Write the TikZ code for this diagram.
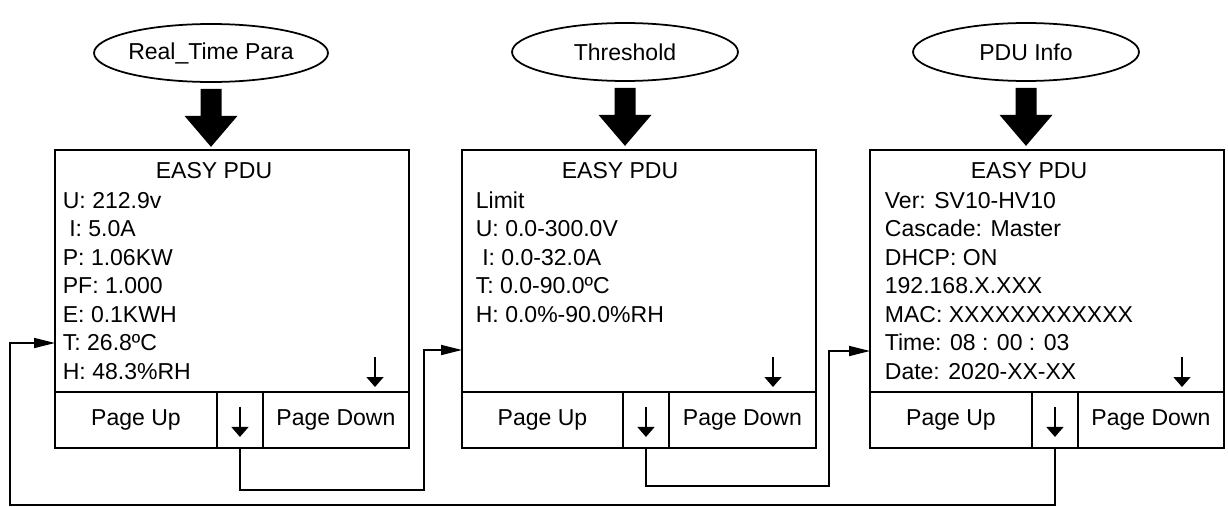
\documentclass[tikz,border=0pt]{standalone}
\usepackage{fontspec}
\setmainfont{Liberation Sans}
\usetikzlibrary{positioning,shapes.geometric,arrows.meta}
\begin{document}
\begin{tikzpicture}[x=0.02cm,y=-0.02cm,line width=1pt,
  font=\fontsize{13.1}{15.7}\selectfont,
  screen/.style={draw,line width=1.1pt,minimum width=7.08cm,minimum height=4.84cm,outer sep=0pt,inner sep=0pt,anchor=north west},
  key/.style={draw,line width=1.1pt,minimum height=1.12cm,outer sep=0pt,inner sep=0pt},
  menu/.style={draw,ellipse,minimum width=4.52cm,minimum height=1.16cm,inner sep=0pt},
  txt/.style={anchor=base west,inner sep=0pt},
  downmark/.style={line width=0.9pt,-{Triangle[length=0.2cm,width=0.34cm]}},
  link/.style={-{Triangle[length=0.42cm,width=0.2cm]}}]
\useasboundingbox (0,0) rectangle (1228,507);
% menus
\node[menu] (m1) at (211,53) {Real\_Time Para};
\node[menu] (m2) at (625,52) {Threshold};
\node[menu] (m3) at (1026,52) {PDU Info};
\fill (m1.south)++(-10.5,6) -- ++(21,0) -- ++(0,27) -- ++(16,0) -- ++(-26.5,31) -- ++(-26.5,-31) -- ++(16,0) -- cycle;
\fill (m2.south)++(-10.5,6) -- ++(21,0) -- ++(0,27) -- ++(16,0) -- ++(-26.5,31) -- ++(-26.5,-31) -- ++(16,0) -- cycle;
\fill (m3.south)++(-10.5,6) -- ++(21,0) -- ++(0,27) -- ++(16,0) -- ++(-26.5,31) -- ++(-26.5,-31) -- ++(16,0) -- cycle;
% screens
\node[screen] (scr1) at (55,150) {};
\node[key,minimum width=3.24cm,anchor=north west] (up1) at (scr1.south west) {Page Up};
\node[key,minimum width=0.92cm,right=0pt of up1] (key1) {};
\node[key,minimum width=2.92cm,right=0pt of key1] (pd1) {Page Down};
\node[screen] (scr2) at (462,150) {};
\node[key,minimum width=3.22cm,anchor=north west] (up2) at (scr2.south west) {Page Up};
\node[key,minimum width=0.92cm,right=0pt of up2] (key2) {};
\node[key,minimum width=2.94cm,right=0pt of key2] (pd2) {Page Down};
\node[screen] (scr3) at (870,150) {};
\node[key,minimum width=3.24cm,anchor=north west] (up3) at (scr3.south west) {Page Up};
\node[key,minimum width=0.92cm,right=0pt of up3] (key3) {};
\node[key,minimum width=2.92cm,right=0pt of key3] (pd3) {Page Down};
% screen texts
\node[anchor=base,inner sep=0pt] (h1) at (214,178) {EASY PDU};
\node[anchor=base,inner sep=0pt] (h2) at (620,178) {EASY PDU};
\node[anchor=base,inner sep=0pt] (h3) at (1029,178) {EASY PDU};
\foreach \t [count=\i] in {U: 212.9v,\ I: 5.0A,P: 1.06KW,PF: 1.000,E: 0.1KWH,T: 26.8ºC,H: 48.3\%RH}
  \node[txt] (a\i) at (62,{208+28.5*(\i-1)}) {\t};
\foreach \t [count=\i] in {Limit,U: 0.0-300.0V,\ I: 0.0-32.0A,T: 0.0-90.0ºC,H: 0.0\%-90.0\%RH}
  \node[txt] (b\i) at (475,{208+28.5*(\i-1)}) {\t};
\foreach \t [count=\i] in {Ver: SV10-HV10,Cascade: Master,DHCP: ON,192.168.X.XXX,MAC: XXXXXXXXXXXX,Time: 08 : 00 : 03,Date: 2020-XX-XX}
  \node[txt] (c\i) at (884,{208+28.5*(\i-1)}) {\t};
% down marks
\coordinate (d1) at (375,357);
\coordinate (d2) at (773,357);
\coordinate (d3) at (1182,357);
\draw[downmark] (d1) -- ++(0,30);
\draw[downmark] (d2) -- ++(0,30);
\draw[downmark] (d3) -- ++(0,30);
\draw[downmark] (key1.center)++(0,-13) -- ++(0,30);
\draw[downmark] (key2.center)++(0,-13) -- ++(0,30);
\draw[downmark] (key3.center)++(0,-13) -- ++(0,30);
% page links
\coordinate (j1) at (424,490);
\coordinate (k1) at (424,350);
\draw[link] (key1.south) |- (j1) -- (k1) -- (k1-|scr2.west);
\coordinate (j2) at (829,486);
\coordinate (k2) at (829,351);
\draw[link] (key2.south) |- (j2) -- (k2) -- (k2-|scr3.west);
\coordinate (j3) at (10,505);
\coordinate (k3) at (10,343);
\draw[link] (key3.south) |- (j3) -- (k3) -- (k3-|scr1.west);
\end{tikzpicture}
\end{document}
